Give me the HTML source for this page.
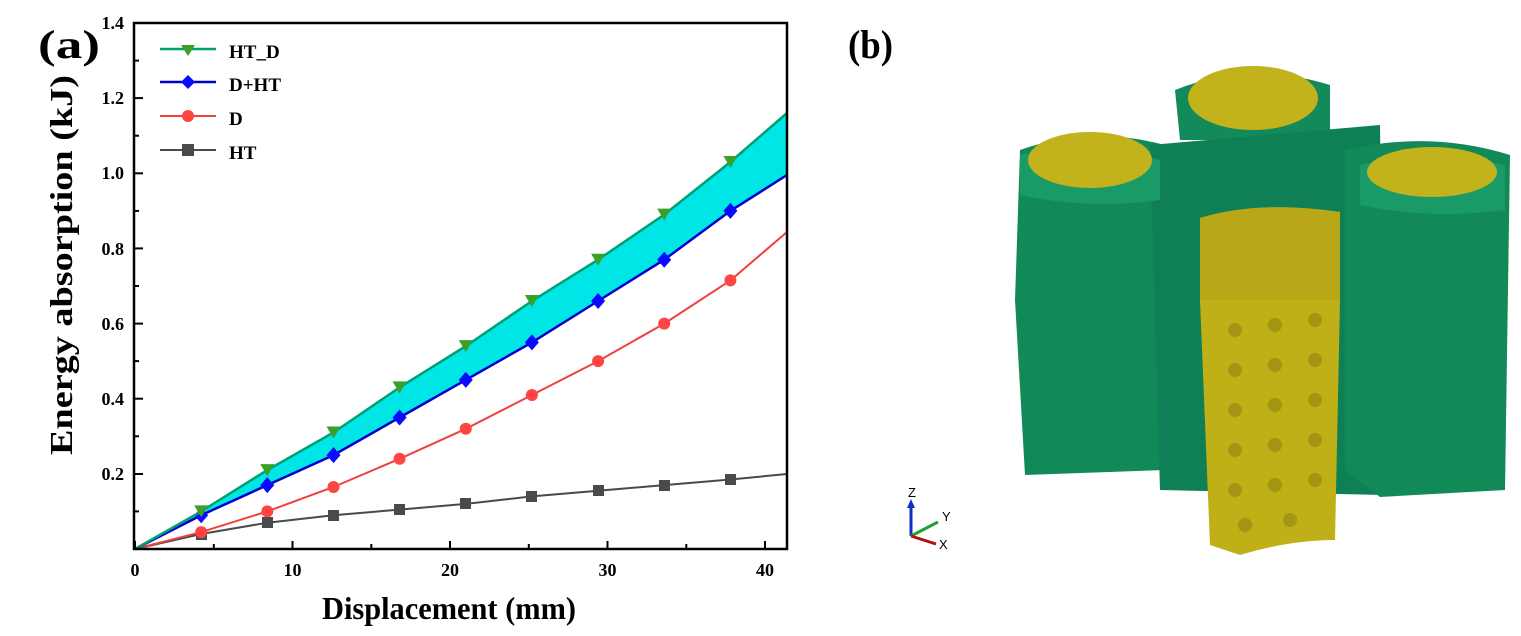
<!DOCTYPE html>
<html><head><meta charset="utf-8"><style>
html,body{margin:0;padding:0;background:#fff;}
svg{display:block;}
text{font-family:"Liberation Serif",serif;font-weight:bold;}
</style></head><body>
<svg width="1521" height="636" viewBox="0 0 1521 636" xmlns="http://www.w3.org/2000/svg">
<text x="38" y="58" font-size="40" textLength="62" lengthAdjust="spacingAndGlyphs">(a)</text>
<text x="848" y="58" font-size="40" textLength="45" lengthAdjust="spacingAndGlyphs">(b)</text>
<!-- band -->
<polygon fill="#00e5e5" points="135,549 201.2,511.4 267.3,470.1 333.5,432.5 399.6,387.4 465.8,346.1 531.9,301 598.1,259.7 664.2,214.6 730.4,162 787,113 787,175 730.4,210.9 664.2,259.7 598.1,301 531.9,342.4 465.8,379.9 399.6,417.5 333.5,455.1 267.3,485.1 201.2,515.2"/>
<!-- HT -->
<polyline fill="none" stroke="#4a4a4a" stroke-width="2" points="135,549 201.2,534 267.3,522.7 333.5,515.2 399.6,509.6 465.8,503.9 531.9,496.4 598.1,490.8 664.2,485.1 730.4,479.5 787,474"/>
<g fill="#4a4a4a">
<rect x="196" y="529" width="11" height="11"/><rect x="262" y="517" width="11" height="11"/><rect x="328" y="510" width="11" height="11"/><rect x="394" y="504" width="11" height="11"/><rect x="460" y="498" width="11" height="11"/><rect x="526" y="491" width="11" height="11"/><rect x="593" y="485" width="11" height="11"/><rect x="659" y="480" width="11" height="11"/><rect x="725" y="474" width="11" height="11"/>
</g>
<!-- D -->
<polyline fill="none" stroke="#f04040" stroke-width="2" points="135,549 201.2,532.1 267.3,511.4 333.5,487 399.6,458.8 465.8,428.8 531.9,395 598.1,361.1 664.2,323.6 730.4,280.4 787,232"/>
<g fill="#f44">
<circle cx="201.2" cy="532.1" r="6"/><circle cx="267.3" cy="511.4" r="6"/><circle cx="333.5" cy="487" r="6"/><circle cx="399.6" cy="458.8" r="6"/><circle cx="465.8" cy="428.8" r="6"/><circle cx="531.9" cy="395" r="6"/><circle cx="598.1" cy="361.1" r="6"/><circle cx="664.2" cy="323.6" r="6"/><circle cx="730.4" cy="280.4" r="6"/>
</g>
<!-- D+HT -->
<polyline fill="none" stroke="#0000cc" stroke-width="2.5" points="135,549 201.2,515.2 267.3,485.1 333.5,455.1 399.6,417.5 465.8,379.9 531.9,342.4 598.1,301 664.2,259.7 730.4,210.9 787,175"/>
<g fill="#0a0aff">
<polygon points="201.2,507.2 208.2,515.2 201.2,523.2 194.2,515.2"/><polygon points="267.3,477.1 274.3,485.1 267.3,493.1 260.3,485.1"/><polygon points="333.5,447.1 340.5,455.1 333.5,463.1 326.5,455.1"/><polygon points="399.6,409.5 406.6,417.5 399.6,425.5 392.6,417.5"/><polygon points="465.8,371.9 472.8,379.9 465.8,387.9 458.8,379.9"/><polygon points="531.9,334.4 538.9,342.4 531.9,350.4 524.9,342.4"/><polygon points="598.1,293 605.1,301 598.1,309 591.1,301"/><polygon points="664.2,251.7 671.2,259.7 664.2,267.7 657.2,259.7"/><polygon points="730.4,202.9 737.4,210.9 730.4,218.9 723.4,210.9"/>
</g>
<!-- HT_D -->
<polyline fill="none" stroke="#00a070" stroke-width="2.5" points="135,549 201.2,511.4 267.3,470.1 333.5,432.5 399.6,387.4 465.8,346.1 531.9,301 598.1,259.7 664.2,214.6 730.4,162 787,113"/>
<g fill="#3aa02a">
<polygon points="194.2,505.4 208.2,505.4 201.2,517.4"/><polygon points="260.3,464.1 274.3,464.1 267.3,476.1"/><polygon points="326.5,426.5 340.5,426.5 333.5,438.5"/><polygon points="392.6,381.4 406.6,381.4 399.6,393.4"/><polygon points="458.8,340.1 472.8,340.1 465.8,352.1"/><polygon points="524.9,295 538.9,295 531.9,307"/><polygon points="591.1,253.7 605.1,253.7 598.1,265.7"/><polygon points="657.2,208.6 671.2,208.6 664.2,220.6"/><polygon points="723.4,156 737.4,156 730.4,168"/>
</g>
<!-- axes -->
<rect x="134" y="23" width="653" height="526" fill="none" stroke="#000" stroke-width="2.5"/>
<g stroke="#000" stroke-width="2">
<line x1="135" y1="549" x2="135" y2="541"/><line x1="213.8" y1="549" x2="213.8" y2="544"/><line x1="292.5" y1="549" x2="292.5" y2="541"/><line x1="371.3" y1="549" x2="371.3" y2="544"/><line x1="450" y1="549" x2="450" y2="541"/><line x1="528.8" y1="549" x2="528.8" y2="544"/><line x1="607.5" y1="549" x2="607.5" y2="541"/><line x1="686.3" y1="549" x2="686.3" y2="544"/><line x1="765" y1="549" x2="765" y2="541"/>
<line x1="134" y1="474" x2="143" y2="474"/><line x1="134" y1="398.7" x2="143" y2="398.7"/><line x1="134" y1="323.6" x2="143" y2="323.6"/><line x1="134" y1="248.4" x2="143" y2="248.4"/><line x1="134" y1="173.3" x2="143" y2="173.3"/><line x1="134" y1="98.1" x2="143" y2="98.1"/>
<line x1="134" y1="511.4" x2="139" y2="511.4"/><line x1="134" y1="436.3" x2="139" y2="436.3"/><line x1="134" y1="361.1" x2="139" y2="361.1"/><line x1="134" y1="286" x2="139" y2="286"/><line x1="134" y1="210.9" x2="139" y2="210.9"/><line x1="134" y1="135.7" x2="139" y2="135.7"/><line x1="134" y1="60.6" x2="139" y2="60.6"/>
</g>
<g font-size="18" text-anchor="end">
<text x="124" y="480">0.2</text><text x="124" y="405">0.4</text><text x="124" y="330">0.6</text><text x="124" y="255">0.8</text><text x="124" y="179">1.0</text><text x="124" y="104">1.2</text><text x="124" y="29">1.4</text>
</g>
<g font-size="18" text-anchor="middle">
<text x="135" y="576">0</text><text x="292.5" y="576">10</text><text x="450" y="576">20</text><text x="607.5" y="576">30</text><text x="765" y="576">40</text>
</g>
<text x="322" y="619" font-size="32" textLength="254" lengthAdjust="spacingAndGlyphs">Displacement (mm)</text>
<text transform="translate(72,455) rotate(-90)" font-size="32" textLength="380" lengthAdjust="spacingAndGlyphs">Energy absorption (kJ)</text>
<!-- legend -->
<line x1="160" y1="49" x2="216" y2="49" stroke="#00a070" stroke-width="2.5"/><polygon points="181,45 195,45 188,56" fill="#3aa02a"/>
<text x="229" y="58" font-size="19">HT_D</text>
<line x1="160" y1="82" x2="216" y2="82" stroke="#0000cc" stroke-width="2.5"/><polygon points="188,75 195,82 188,89 181,82" fill="#0a0aff"/>
<text x="229" y="91" font-size="19">D+HT</text>
<line x1="160" y1="116" x2="216" y2="116" stroke="#f04040" stroke-width="2"/><circle cx="188" cy="116" r="6" fill="#f44"/>
<text x="229" y="125" font-size="19">D</text>
<line x1="160" y1="150" x2="216" y2="150" stroke="#4a4a4a" stroke-width="2"/><rect x="182" y="144" width="12" height="12" fill="#4a4a4a"/>
<text x="229" y="159" font-size="19">HT</text>
<!-- 3D figure -->
<g>
<path d="M1020,150 Q1090,125 1165,145 L1165,470 L1025,475 L1015,300 Z" fill="#128a58"/>
<path d="M1175,90 Q1250,60 1330,85 L1330,140 L1180,140 Z" fill="#138a5a"/>
<path d="M1150,145 L1380,125 L1385,495 L1160,490 Z" fill="#0f8055"/>
<path d="M1345,150 Q1430,130 1510,155 L1505,490 L1380,497 L1345,470 Z" fill="#128a58"/>
<path d="M1020,155 Q1090,140 1160,160 L1160,200 Q1090,210 1020,195 Z" fill="#1a9a66"/>
<path d="M1360,165 Q1430,150 1505,165 L1505,210 Q1430,220 1360,205 Z" fill="#1a9a66"/>
<ellipse cx="1090" cy="160" rx="62" ry="28" fill="#c2b21c"/>
<ellipse cx="1253" cy="98" rx="65" ry="32" fill="#c2b21c"/>
<ellipse cx="1432" cy="172" rx="65" ry="25" fill="#c2b21c"/>
<path d="M1200,218 Q1260,200 1340,212 L1340,300 L1335,540 Q1290,540 1240,555 L1210,545 L1200,300 Z" fill="#bfb018"/>
<path d="M1200,218 Q1260,200 1340,212 L1340,300 L1200,300 Z" fill="#b8a818"/>
<g fill="#8a7a10" opacity="0.5">
<circle cx="1235" cy="330" r="7"/><circle cx="1275" cy="325" r="7"/><circle cx="1315" cy="320" r="7"/>
<circle cx="1235" cy="370" r="7"/><circle cx="1275" cy="365" r="7"/><circle cx="1315" cy="360" r="7"/>
<circle cx="1235" cy="410" r="7"/><circle cx="1275" cy="405" r="7"/><circle cx="1315" cy="400" r="7"/>
<circle cx="1235" cy="450" r="7"/><circle cx="1275" cy="445" r="7"/><circle cx="1315" cy="440" r="7"/>
<circle cx="1235" cy="490" r="7"/><circle cx="1275" cy="485" r="7"/><circle cx="1315" cy="480" r="7"/>
<circle cx="1245" cy="525" r="7"/><circle cx="1290" cy="520" r="7"/>
</g>
</g>
<!-- triad -->
<line x1="911" y1="536" x2="911" y2="506" stroke="#1030c0" stroke-width="3"/><polygon points="907,508 915,508 911,499" fill="#1030c0"/>
<line x1="911" y1="536" x2="938" y2="522" stroke="#20a030" stroke-width="3"/>
<line x1="911" y1="536" x2="936" y2="544" stroke="#b01010" stroke-width="3"/>
<text x="908" y="497" font-size="13" style="font-family:'Liberation Sans',sans-serif;font-weight:normal">Z</text>
<text x="942" y="521" font-size="13" style="font-family:'Liberation Sans',sans-serif;font-weight:normal">Y</text>
<text x="939" y="549" font-size="13" style="font-family:'Liberation Sans',sans-serif;font-weight:normal">X</text>
</svg>
</body></html>
